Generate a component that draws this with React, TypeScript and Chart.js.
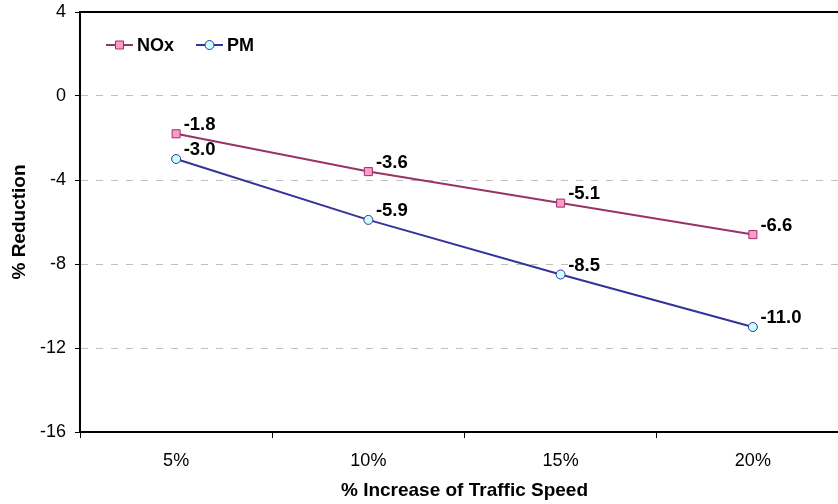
import React, { useEffect, useRef } from "react";
import { Chart, registerables } from "chart.js";

Chart.register(...registerables);

// Traffic speed scenarios and the resulting emission changes (%)
const speedIncrease = ["5%", "10%", "15%", "20%"];
const noxReduction = [-1.8, -3.6, -5.1, -6.6];
const pmReduction = [-3.0, -5.9, -8.5, -11.0];
const yTicks = [4, 0, -4, -8, -12, -16];

const FONT = "'Liberation Sans', Arial, sans-serif";

// Value labels drawn up and to the right of each marker
const valueLabels = {
  id: "valueLabels",
  afterDatasetsDraw(chart: any) {
    const ctx = chart.ctx;
    ctx.save();
    ctx.font = `bold 18.5px ${FONT}`;
    ctx.fillStyle = "#000";
    ctx.textAlign = "left";
    ctx.textBaseline = "middle";
    chart.data.datasets.forEach((ds: any, i: number) => {
      const meta = chart.getDatasetMeta(i);
      meta.data.forEach((pt: any, j: number) => {
        ctx.fillText(Number(ds.data[j]).toFixed(1), pt.x + 7.5, pt.y - 9);
      });
    });
    ctx.restore();
  },
};

// Legend placed inside the plot area: line segment with marker, then name
const innerLegend = {
  id: "innerLegend",
  afterDraw(chart: any) {
    const ctx = chart.ctx;
    const area = chart.chartArea;
    const y = area.top + 33;
    ctx.save();
    chart.data.datasets.forEach((ds: any, i: number) => {
      const x0 = area.left + 26 + i * 90;
      ctx.strokeStyle = ds.borderColor;
      ctx.lineWidth = 2;
      ctx.beginPath();
      ctx.moveTo(x0, y);
      ctx.lineTo(x0 + 27, y);
      ctx.stroke();
      const cx = x0 + 13.5;
      ctx.fillStyle = ds.pointBackgroundColor;
      ctx.strokeStyle = ds.pointBorderColor;
      ctx.lineWidth = 1;
      ctx.beginPath();
      if (ds.pointStyle === "rect") {
        ctx.rect(cx - 4, y - 4, 8, 8);
      } else {
        ctx.arc(cx, y, 4.5, 0, Math.PI * 2);
      }
      ctx.fill();
      ctx.stroke();
      ctx.fillStyle = "#000";
      ctx.font = `bold 18px ${FONT}`;
      ctx.textAlign = "left";
      ctx.textBaseline = "middle";
      ctx.fillText(ds.label, x0 + 31, y + 1);
    });
    ctx.restore();
  },
};

export default function App() {
  const canvasRef = useRef<HTMLCanvasElement>(null);

  useEffect(() => {
    const canvas = canvasRef.current;
    if (!canvas) return;
    const chart = new Chart(canvas, {
      type: "line",
      data: {
        labels: speedIncrease,
        datasets: [
          {
            label: "NOx",
            data: noxReduction,
            borderColor: "#993366",
            borderWidth: 2,
            pointStyle: "rect",
            pointRadius: 5.7,
            pointBackgroundColor: "#FF99CC",
            pointBorderColor: "#993366",
            pointBorderWidth: 1,
            tension: 0,
          },
          {
            label: "PM",
            data: pmReduction,
            borderColor: "#333399",
            borderWidth: 2,
            pointStyle: "circle",
            pointRadius: 4.5,
            pointBackgroundColor: "#CCFFFF",
            pointBorderColor: "#333399",
            pointBorderWidth: 1,
            tension: 0,
          },
        ],
      },
      options: {
        responsive: false,
        animation: false,
        devicePixelRatio: 1,
        layout: { padding: { top: 12, right: 11, left: 0, bottom: 0 } },
        plugins: {
          legend: { display: false },
          tooltip: { enabled: false },
        },
        scales: {
          x: {
            type: "category",
            position: "bottom",
            offset: true,
            grid: {
              offset: true,
              drawOnChartArea: false,
              drawTicks: true,
              tickLength: 6,
              tickColor: "#000",
              tickWidth: 1,
            },
            border: { display: true, color: "#000", width: 2 },
            ticks: {
              color: "#000",
              font: { family: FONT, size: 18 },
              padding: 12,
              maxRotation: 0,
            },
            title: {
              display: true,
              text: "% Increase of Traffic Speed",
              color: "#000",
              font: { family: FONT, size: 19, weight: "bold" },
              padding: { top: 0, bottom: 2 },
            },
            afterFit(scale: any) {
              scale.height = 72;
              scale.paddingLeft = 0;
              scale.paddingRight = 0;
            },
          },
          x2: {
            type: "category",
            axis: "x",
            position: "top",
            offset: true,
            grid: { display: false },
            ticks: { display: false },
            border: { display: true, color: "#000", width: 2 },
            afterFit(scale: any) {
              scale.height = 0;
              scale.paddingLeft = 0;
              scale.paddingRight = 0;
            },
          },
          y: {
            type: "linear",
            min: -16,
            max: 4,
            afterBuildTicks(scale: any) {
              scale.ticks = yTicks.map((v) => ({ value: v }));
            },
            grid: {
              color: (ctx: any) =>
                ctx.tick && (ctx.tick.value === 4 || ctx.tick.value === -16)
                  ? "rgba(0,0,0,0)"
                  : "#C0C0C0",
              lineWidth: 1,
              drawTicks: true,
              tickLength: 5,
              tickColor: "#000",
              tickWidth: 1,
            },
            border: { display: true, color: "#000", width: 2, dash: [7, 8] },
            ticks: {
              color: "#000",
              font: { family: FONT, size: 18 },
              padding: 9,
            },
            title: {
              display: true,
              text: "% Reduction",
              color: "#000",
              font: { family: FONT, size: 19, weight: "bold" },
              padding: { top: 8.5, bottom: 0 },
            },
            afterFit(scale: any) {
              scale.width = 80;
              scale.paddingTop = 0;
              scale.paddingBottom = 0;
            },
          },
        },
      },
      plugins: [valueLabels, innerLegend],
    });
    return () => chart.destroy();
  }, []);

  return (
    <div
      style={{
        position: "fixed",
        left: 0,
        top: 0,
        width: 838,
        height: 504,
        overflow: "hidden",
        background: "#fff",
      }}
    >
      <canvas
        ref={canvasRef}
        width={860}
        height={504}
        style={{ width: 860, height: 504, display: "block" }}
      />
    </div>
  );
}
